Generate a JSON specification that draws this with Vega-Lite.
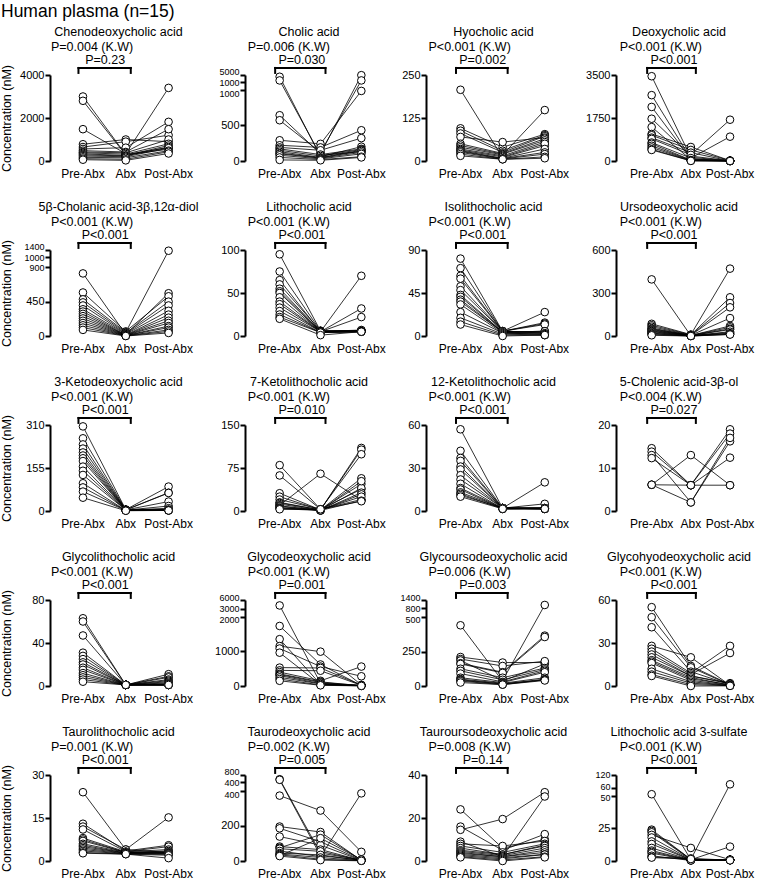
{
"$schema":"https://vega.github.io/schema/vega-lite/v6.json",
"usermeta":{"embedOptions":{"actions":false}},
"padding":{"left":0,"top":2,"right":0,"bottom":4},
"title":{"text":"Human plasma (n=15)","anchor":"start","fontSize":17.5,"offset":6,"frame":"bounds","dx":1},
"columns":4,
"spacing":{"row":89,"column":30},
"bounds":"flush",
"config":{
 "font":"Liberation Sans",
 "view":{"stroke":null,"continuousHeight":86,"discreteWidth":151},
 "scale":{"pointPadding":0.7},
 "numberFormat":"d",
 "axis":{"labelColor":"black","titleColor":"black","labelFont":"Liberation Sans","titleFont":"Liberation Sans","grid":false,"labelOverlap":false},
 "axisX":{"domain":false,"ticks":false,"labelFontSize":12,"labelPadding":7,"labelAngle":0,"labelExpr":"datum.value=='a'?'Pre-Abx':datum.value=='b'?'Abx':'Post-Abx'"},
 "axisY":{"domainColor":"black","domainWidth":2,"tickColor":"black","tickWidth":2,"tickSize":5,"labelFontSize":11,"labelPadding":1,"minExtent":30,"maxExtent":30,"titleFontSize":12.5,"titleFontWeight":"normal","titlePadding":7},
 "title":{"fontSize":12.5,"fontWeight":"normal","anchor":"middle","frame":"group","offset":2,"color":"black","font":"Liberation Sans"},
 "line":{"color":"black","strokeWidth":0.8},
 "point":{"filled":true,"fill":"white","stroke":"black","strokeWidth":1,"size":58,"opacity":1},
 "rule":{"color":"black","strokeWidth":2,"strokeCap":"square"},
 "text":{"fontSize":12.5,"color":"black","font":"Liberation Sans"}
},
"datasets":{
"d1":[{"t":"a","s":1,"v":3000},{"t":"b","s":1,"v":300},{"t":"c","s":1,"v":620},{"t":"a","s":2,"v":2800},{"t":"b","s":2,"v":280},{"t":"c","s":2,"v":550},{"t":"a","s":3,"v":1480},{"t":"b","s":3,"v":340},{"t":"c","s":3,"v":3400},{"t":"a","s":4,"v":780},{"t":"b","s":4,"v":1000},{"t":"c","s":4,"v":900},{"t":"a","s":5,"v":650},{"t":"b","s":5,"v":900},{"t":"c","s":5,"v":1200},{"t":"a","s":6,"v":560},{"t":"b","s":6,"v":620},{"t":"c","s":6,"v":1820},{"t":"a","s":7,"v":480},{"t":"b","s":7,"v":420},{"t":"c","s":7,"v":1480},{"t":"a","s":8,"v":420},{"t":"b","s":8,"v":380},{"t":"c","s":8,"v":1000},{"t":"a","s":9,"v":380},{"t":"b","s":9,"v":320},{"t":"c","s":9,"v":800},{"t":"a","s":10,"v":330},{"t":"b","s":10,"v":260},{"t":"c","s":10,"v":720},{"t":"a","s":11,"v":280},{"t":"b","s":11,"v":240},{"t":"c","s":11,"v":650},{"t":"a","s":12,"v":230},{"t":"b","s":12,"v":200},{"t":"c","s":12,"v":600},{"t":"a","s":13,"v":170},{"t":"b","s":13,"v":150},{"t":"c","s":13,"v":480},{"t":"a","s":14,"v":110},{"t":"b","s":14,"v":80},{"t":"c","s":14,"v":430},{"t":"a","s":15,"v":60},{"t":"b","s":15,"v":30},{"t":"c","s":15,"v":350}],
"d2":[{"t":"a","s":1,"v":4000},{"t":"b","s":1,"v":60},{"t":"c","s":1,"v":200},{"t":"a","s":2,"v":1900},{"t":"b","s":2,"v":80},{"t":"c","s":2,"v":130},{"t":"a","s":3,"v":640},{"t":"b","s":3,"v":100},{"t":"c","s":3,"v":4900},{"t":"a","s":4,"v":570},{"t":"b","s":4,"v":120},{"t":"c","s":4,"v":1900},{"t":"a","s":5,"v":290},{"t":"b","s":5,"v":240},{"t":"c","s":5,"v":980},{"t":"a","s":6,"v":220},{"t":"b","s":6,"v":190},{"t":"c","s":6,"v":430},{"t":"a","s":7,"v":190},{"t":"b","s":7,"v":150},{"t":"c","s":7,"v":320},{"t":"a","s":8,"v":170},{"t":"b","s":8,"v":90},{"t":"c","s":8,"v":170},{"t":"a","s":9,"v":150},{"t":"b","s":9,"v":70},{"t":"c","s":9,"v":160},{"t":"a","s":10,"v":130},{"t":"b","s":10,"v":50},{"t":"c","s":10,"v":150},{"t":"a","s":11,"v":110},{"t":"b","s":11,"v":45},{"t":"c","s":11,"v":140},{"t":"a","s":12,"v":100},{"t":"b","s":12,"v":40},{"t":"c","s":12,"v":120},{"t":"a","s":13,"v":80},{"t":"b","s":13,"v":30},{"t":"c","s":13,"v":100},{"t":"a","s":14,"v":50},{"t":"b","s":14,"v":20},{"t":"c","s":14,"v":60},{"t":"a","s":15,"v":15},{"t":"b","s":15,"v":10},{"t":"c","s":15,"v":50}],
"d3":[{"t":"a","s":1,"v":207},{"t":"b","s":1,"v":10},{"t":"c","s":1,"v":45},{"t":"a","s":2,"v":95},{"t":"b","s":2,"v":40},{"t":"c","s":2,"v":78},{"t":"a","s":3,"v":88},{"t":"b","s":3,"v":30},{"t":"c","s":3,"v":75},{"t":"a","s":4,"v":80},{"t":"b","s":4,"v":25},{"t":"c","s":4,"v":72},{"t":"a","s":5,"v":70},{"t":"b","s":5,"v":55},{"t":"c","s":5,"v":68},{"t":"a","s":6,"v":50},{"t":"b","s":6,"v":22},{"t":"c","s":6,"v":65},{"t":"a","s":7,"v":45},{"t":"b","s":7,"v":20},{"t":"c","s":7,"v":60},{"t":"a","s":8,"v":40},{"t":"b","s":8,"v":18},{"t":"c","s":8,"v":148},{"t":"a","s":9,"v":35},{"t":"b","s":9,"v":15},{"t":"c","s":9,"v":55},{"t":"a","s":10,"v":32},{"t":"b","s":10,"v":12},{"t":"c","s":10,"v":50},{"t":"a","s":11,"v":30},{"t":"b","s":11,"v":8},{"t":"c","s":11,"v":35},{"t":"a","s":12,"v":28},{"t":"b","s":12,"v":7},{"t":"c","s":12,"v":25},{"t":"a","s":13,"v":25},{"t":"b","s":13,"v":6},{"t":"c","s":13,"v":20},{"t":"a","s":14,"v":20},{"t":"b","s":14,"v":5},{"t":"c","s":14,"v":12},{"t":"a","s":15,"v":15},{"t":"b","s":15,"v":5},{"t":"c","s":15,"v":8}],
"d4":[{"t":"a","s":1,"v":3450},{"t":"b","s":1,"v":150},{"t":"c","s":1,"v":5},{"t":"a","s":2,"v":2680},{"t":"b","s":2,"v":100},{"t":"c","s":2,"v":3},{"t":"a","s":3,"v":2200},{"t":"b","s":3,"v":80},{"t":"c","s":3,"v":10},{"t":"a","s":4,"v":1720},{"t":"b","s":4,"v":200},{"t":"c","s":4,"v":8},{"t":"a","s":5,"v":1380},{"t":"b","s":5,"v":60},{"t":"c","s":5,"v":5},{"t":"a","s":6,"v":1100},{"t":"b","s":6,"v":570},{"t":"c","s":6,"v":15},{"t":"a","s":7,"v":1050},{"t":"b","s":7,"v":450},{"t":"c","s":7,"v":20},{"t":"a","s":8,"v":950},{"t":"b","s":8,"v":340},{"t":"c","s":8,"v":2},{"t":"a","s":9,"v":900},{"t":"b","s":9,"v":250},{"t":"c","s":9,"v":1680},{"t":"a","s":10,"v":750},{"t":"b","s":10,"v":120},{"t":"c","s":10,"v":990},{"t":"a","s":11,"v":700},{"t":"b","s":11,"v":40},{"t":"c","s":11,"v":3},{"t":"a","s":12,"v":620},{"t":"b","s":12,"v":30},{"t":"c","s":12,"v":2},{"t":"a","s":13,"v":550},{"t":"b","s":13,"v":20},{"t":"c","s":13,"v":1},{"t":"a","s":14,"v":480},{"t":"b","s":14,"v":10},{"t":"c","s":14,"v":1},{"t":"a","s":15,"v":450},{"t":"b","s":15,"v":5},{"t":"c","s":15,"v":0}],
"d5":[{"t":"a","s":1,"v":820},{"t":"b","s":1,"v":20},{"t":"c","s":1,"v":560},{"t":"a","s":2,"v":570},{"t":"b","s":2,"v":60},{"t":"c","s":2,"v":520},{"t":"a","s":3,"v":480},{"t":"b","s":3,"v":50},{"t":"c","s":3,"v":1360},{"t":"a","s":4,"v":440},{"t":"b","s":4,"v":40},{"t":"c","s":4,"v":450},{"t":"a","s":5,"v":400},{"t":"b","s":5,"v":30},{"t":"c","s":5,"v":400},{"t":"a","s":6,"v":350},{"t":"b","s":6,"v":25},{"t":"c","s":6,"v":330},{"t":"a","s":7,"v":320},{"t":"b","s":7,"v":15},{"t":"c","s":7,"v":280},{"t":"a","s":8,"v":290},{"t":"b","s":8,"v":12},{"t":"c","s":8,"v":240},{"t":"a","s":9,"v":260},{"t":"b","s":9,"v":10},{"t":"c","s":9,"v":200},{"t":"a","s":10,"v":230},{"t":"b","s":10,"v":8},{"t":"c","s":10,"v":170},{"t":"a","s":11,"v":200},{"t":"b","s":11,"v":6},{"t":"c","s":11,"v":130},{"t":"a","s":12,"v":170},{"t":"b","s":12,"v":5},{"t":"c","s":12,"v":110},{"t":"a","s":13,"v":140},{"t":"b","s":13,"v":3},{"t":"c","s":13,"v":80},{"t":"a","s":14,"v":110},{"t":"b","s":14,"v":2},{"t":"c","s":14,"v":60},{"t":"a","s":15,"v":80},{"t":"b","s":15,"v":0},{"t":"c","s":15,"v":40}],
"d6":[{"t":"a","s":1,"v":95},{"t":"b","s":1,"v":6},{"t":"c","s":1,"v":6},{"t":"a","s":2,"v":75},{"t":"b","s":2,"v":6},{"t":"c","s":2,"v":6},{"t":"a","s":3,"v":65},{"t":"b","s":3,"v":5},{"t":"c","s":3,"v":70},{"t":"a","s":4,"v":60},{"t":"b","s":4,"v":6},{"t":"c","s":4,"v":6},{"t":"a","s":5,"v":55},{"t":"b","s":5,"v":5},{"t":"c","s":5,"v":32},{"t":"a","s":6,"v":52},{"t":"b","s":6,"v":5},{"t":"c","s":6,"v":6},{"t":"a","s":7,"v":50},{"t":"b","s":7,"v":5},{"t":"c","s":7,"v":22},{"t":"a","s":8,"v":45},{"t":"b","s":8,"v":5},{"t":"c","s":8,"v":6},{"t":"a","s":9,"v":40},{"t":"b","s":9,"v":5},{"t":"c","s":9,"v":7},{"t":"a","s":10,"v":37},{"t":"b","s":10,"v":5},{"t":"c","s":10,"v":6},{"t":"a","s":11,"v":33},{"t":"b","s":11,"v":5},{"t":"c","s":11,"v":5},{"t":"a","s":12,"v":29},{"t":"b","s":12,"v":4},{"t":"c","s":12,"v":5},{"t":"a","s":13,"v":25},{"t":"b","s":13,"v":4},{"t":"c","s":13,"v":5},{"t":"a","s":14,"v":22},{"t":"b","s":14,"v":4},{"t":"c","s":14,"v":5},{"t":"a","s":15,"v":20},{"t":"b","s":15,"v":1},{"t":"c","s":15,"v":5}],
"d7":[{"t":"a","s":1,"v":81},{"t":"b","s":1,"v":5},{"t":"c","s":1,"v":4},{"t":"a","s":2,"v":71},{"t":"b","s":2,"v":5},{"t":"c","s":2,"v":14},{"t":"a","s":3,"v":63},{"t":"b","s":3,"v":5},{"t":"c","s":3,"v":13},{"t":"a","s":4,"v":60},{"t":"b","s":4,"v":5},{"t":"c","s":4,"v":3},{"t":"a","s":5,"v":52},{"t":"b","s":5,"v":5},{"t":"c","s":5,"v":25},{"t":"a","s":6,"v":48},{"t":"b","s":6,"v":5},{"t":"c","s":6,"v":12},{"t":"a","s":7,"v":43},{"t":"b","s":7,"v":4},{"t":"c","s":7,"v":5},{"t":"a","s":8,"v":41},{"t":"b","s":8,"v":4},{"t":"c","s":8,"v":4},{"t":"a","s":9,"v":38},{"t":"b","s":9,"v":4},{"t":"c","s":9,"v":5},{"t":"a","s":10,"v":36},{"t":"b","s":10,"v":4},{"t":"c","s":10,"v":3},{"t":"a","s":11,"v":33},{"t":"b","s":11,"v":3},{"t":"c","s":11,"v":2},{"t":"a","s":12,"v":25},{"t":"b","s":12,"v":3},{"t":"c","s":12,"v":2},{"t":"a","s":13,"v":19},{"t":"b","s":13,"v":2},{"t":"c","s":13,"v":1},{"t":"a","s":14,"v":15},{"t":"b","s":14,"v":1},{"t":"c","s":14,"v":1},{"t":"a","s":15,"v":12},{"t":"b","s":15,"v":0},{"t":"c","s":15,"v":1}],
"d8":[{"t":"a","s":1,"v":395},{"t":"b","s":1,"v":2},{"t":"c","s":1,"v":25},{"t":"a","s":2,"v":85},{"t":"b","s":2,"v":10},{"t":"c","s":2,"v":470},{"t":"a","s":3,"v":75},{"t":"b","s":3,"v":8},{"t":"c","s":3,"v":270},{"t":"a","s":4,"v":65},{"t":"b","s":4,"v":6},{"t":"c","s":4,"v":230},{"t":"a","s":5,"v":55},{"t":"b","s":5,"v":5},{"t":"c","s":5,"v":200},{"t":"a","s":6,"v":50},{"t":"b","s":6,"v":5},{"t":"c","s":6,"v":125},{"t":"a","s":7,"v":45},{"t":"b","s":7,"v":4},{"t":"c","s":7,"v":70},{"t":"a","s":8,"v":40},{"t":"b","s":8,"v":4},{"t":"c","s":8,"v":60},{"t":"a","s":9,"v":35},{"t":"b","s":9,"v":3},{"t":"c","s":9,"v":50},{"t":"a","s":10,"v":30},{"t":"b","s":10,"v":3},{"t":"c","s":10,"v":45},{"t":"a","s":11,"v":25},{"t":"b","s":11,"v":2},{"t":"c","s":11,"v":30},{"t":"a","s":12,"v":20},{"t":"b","s":12,"v":1},{"t":"c","s":12,"v":20},{"t":"a","s":13,"v":15},{"t":"b","s":13,"v":1},{"t":"c","s":13,"v":15},{"t":"a","s":14,"v":10},{"t":"b","s":14,"v":0},{"t":"c","s":14,"v":12},{"t":"a","s":15,"v":5},{"t":"b","s":15,"v":0},{"t":"c","s":15,"v":10}],
"d9":[{"t":"a","s":1,"v":305},{"t":"b","s":1,"v":5},{"t":"c","s":1,"v":4},{"t":"a","s":2,"v":262},{"t":"b","s":2,"v":5},{"t":"c","s":2,"v":88},{"t":"a","s":3,"v":240},{"t":"b","s":3,"v":4},{"t":"c","s":3,"v":66},{"t":"a","s":4,"v":225},{"t":"b","s":4,"v":4},{"t":"c","s":4,"v":3},{"t":"a","s":5,"v":211},{"t":"b","s":5,"v":4},{"t":"c","s":5,"v":65},{"t":"a","s":6,"v":200},{"t":"b","s":6,"v":4},{"t":"c","s":6,"v":34},{"t":"a","s":7,"v":190},{"t":"b","s":7,"v":3},{"t":"c","s":7,"v":18},{"t":"a","s":8,"v":180},{"t":"b","s":8,"v":3},{"t":"c","s":8,"v":10},{"t":"a","s":9,"v":160},{"t":"b","s":9,"v":3},{"t":"c","s":9,"v":5},{"t":"a","s":10,"v":145},{"t":"b","s":10,"v":3},{"t":"c","s":10,"v":4},{"t":"a","s":11,"v":130},{"t":"b","s":11,"v":3},{"t":"c","s":11,"v":3},{"t":"a","s":12,"v":100},{"t":"b","s":12,"v":2},{"t":"c","s":12,"v":3},{"t":"a","s":13,"v":85},{"t":"b","s":13,"v":2},{"t":"c","s":13,"v":2},{"t":"a","s":14,"v":70},{"t":"b","s":14,"v":2},{"t":"c","s":14,"v":2},{"t":"a","s":15,"v":48},{"t":"b","s":15,"v":1},{"t":"c","s":15,"v":2}],
"d10":[{"t":"a","s":1,"v":80},{"t":"b","s":1,"v":3},{"t":"c","s":1,"v":20},{"t":"a","s":2,"v":62},{"t":"b","s":2,"v":3},{"t":"c","s":2,"v":38},{"t":"a","s":3,"v":31},{"t":"b","s":3,"v":2},{"t":"c","s":3,"v":110},{"t":"a","s":4,"v":25},{"t":"b","s":4,"v":2},{"t":"c","s":4,"v":107},{"t":"a","s":5,"v":20},{"t":"b","s":5,"v":3},{"t":"c","s":5,"v":99},{"t":"a","s":6,"v":15},{"t":"b","s":6,"v":2},{"t":"c","s":6,"v":57},{"t":"a","s":7,"v":14},{"t":"b","s":7,"v":2},{"t":"c","s":7,"v":47},{"t":"a","s":8,"v":12},{"t":"b","s":8,"v":1},{"t":"c","s":8,"v":40},{"t":"a","s":9,"v":10},{"t":"b","s":9,"v":65},{"t":"c","s":9,"v":19},{"t":"a","s":10,"v":9},{"t":"b","s":10,"v":1},{"t":"c","s":10,"v":52},{"t":"a","s":11,"v":8},{"t":"b","s":11,"v":1},{"t":"c","s":11,"v":32},{"t":"a","s":12,"v":6},{"t":"b","s":12,"v":1},{"t":"c","s":12,"v":29},{"t":"a","s":13,"v":5},{"t":"b","s":13,"v":2},{"t":"c","s":13,"v":25},{"t":"a","s":14,"v":4},{"t":"b","s":14,"v":1},{"t":"c","s":14,"v":18},{"t":"a","s":15,"v":3},{"t":"b","s":15,"v":3},{"t":"c","s":15,"v":17}],
"d11":[{"t":"a","s":1,"v":57},{"t":"b","s":1,"v":2},{"t":"c","s":1,"v":2},{"t":"a","s":2,"v":42},{"t":"b","s":2,"v":2},{"t":"c","s":2,"v":20},{"t":"a","s":3,"v":37},{"t":"b","s":3,"v":2},{"t":"c","s":3,"v":2},{"t":"a","s":4,"v":35},{"t":"b","s":4,"v":2},{"t":"c","s":4,"v":5},{"t":"a","s":5,"v":31},{"t":"b","s":5,"v":2},{"t":"c","s":5,"v":2},{"t":"a","s":6,"v":29},{"t":"b","s":6,"v":2},{"t":"c","s":6,"v":1.5},{"t":"a","s":7,"v":25},{"t":"b","s":7,"v":2},{"t":"c","s":7,"v":2},{"t":"a","s":8,"v":22},{"t":"b","s":8,"v":2},{"t":"c","s":8,"v":1.5},{"t":"a","s":9,"v":19},{"t":"b","s":9,"v":1.5},{"t":"c","s":9,"v":2},{"t":"a","s":10,"v":16},{"t":"b","s":10,"v":2},{"t":"c","s":10,"v":1.5},{"t":"a","s":11,"v":15},{"t":"b","s":11,"v":1.5},{"t":"c","s":11,"v":1.5},{"t":"a","s":12,"v":13},{"t":"b","s":12,"v":2},{"t":"c","s":12,"v":2},{"t":"a","s":13,"v":12},{"t":"b","s":13,"v":1.5},{"t":"c","s":13,"v":1.5},{"t":"a","s":14,"v":11},{"t":"b","s":14,"v":2},{"t":"c","s":14,"v":2},{"t":"a","s":15,"v":10},{"t":"b","s":15,"v":1.5},{"t":"c","s":15,"v":1.5}],
"d12":[{"t":"a","s":1,"v":14.6},{"t":"b","s":1,"v":6},{"t":"c","s":1,"v":19},{"t":"a","s":2,"v":13.8},{"t":"b","s":2,"v":6},{"t":"c","s":2,"v":18},{"t":"a","s":3,"v":13},{"t":"b","s":3,"v":2},{"t":"c","s":3,"v":16.2},{"t":"a","s":4,"v":12.3},{"t":"b","s":4,"v":6},{"t":"c","s":4,"v":12.4},{"t":"a","s":5,"v":6.1},{"t":"b","s":5,"v":13},{"t":"c","s":5,"v":6},{"t":"a","s":6,"v":6.1},{"t":"b","s":6,"v":6},{"t":"c","s":6,"v":6},{"t":"a","s":7,"v":6.1},{"t":"b","s":7,"v":2},{"t":"c","s":7,"v":17}],
"d13":[{"t":"a","s":1,"v":63},{"t":"b","s":1,"v":1},{"t":"c","s":1,"v":11},{"t":"a","s":2,"v":60},{"t":"b","s":2,"v":1},{"t":"c","s":2,"v":9},{"t":"a","s":3,"v":47},{"t":"b","s":3,"v":1},{"t":"c","s":3,"v":1},{"t":"a","s":4,"v":31},{"t":"b","s":4,"v":1},{"t":"c","s":4,"v":8},{"t":"a","s":5,"v":28},{"t":"b","s":5,"v":1},{"t":"c","s":5,"v":6},{"t":"a","s":6,"v":25},{"t":"b","s":6,"v":1},{"t":"c","s":6,"v":1},{"t":"a","s":7,"v":22},{"t":"b","s":7,"v":1},{"t":"c","s":7,"v":5},{"t":"a","s":8,"v":20},{"t":"b","s":8,"v":1},{"t":"c","s":8,"v":4},{"t":"a","s":9,"v":17},{"t":"b","s":9,"v":1},{"t":"c","s":9,"v":3},{"t":"a","s":10,"v":15},{"t":"b","s":10,"v":1},{"t":"c","s":10,"v":2},{"t":"a","s":11,"v":12},{"t":"b","s":11,"v":1},{"t":"c","s":11,"v":2},{"t":"a","s":12,"v":10},{"t":"b","s":12,"v":1},{"t":"c","s":12,"v":1},{"t":"a","s":13,"v":8},{"t":"b","s":13,"v":1},{"t":"c","s":13,"v":1},{"t":"a","s":14,"v":6},{"t":"b","s":14,"v":1},{"t":"c","s":14,"v":1},{"t":"a","s":15,"v":4},{"t":"b","s":15,"v":1},{"t":"c","s":15,"v":1}],
"d14":[{"t":"a","s":1,"v":4100},{"t":"b","s":1,"v":80},{"t":"c","s":1,"v":10},{"t":"a","s":2,"v":1730},{"t":"b","s":2,"v":620},{"t":"c","s":2,"v":15},{"t":"a","s":3,"v":1350},{"t":"b","s":3,"v":50},{"t":"c","s":3,"v":20},{"t":"a","s":4,"v":1150},{"t":"b","s":4,"v":990},{"t":"c","s":4,"v":30},{"t":"a","s":5,"v":1080},{"t":"b","s":5,"v":560},{"t":"c","s":5,"v":280},{"t":"a","s":6,"v":960},{"t":"b","s":6,"v":40},{"t":"c","s":6,"v":10},{"t":"a","s":7,"v":530},{"t":"b","s":7,"v":520},{"t":"c","s":7,"v":25},{"t":"a","s":8,"v":450},{"t":"b","s":8,"v":440},{"t":"c","s":8,"v":20},{"t":"a","s":9,"v":400},{"t":"b","s":9,"v":150},{"t":"c","s":9,"v":560},{"t":"a","s":10,"v":350},{"t":"b","s":10,"v":120},{"t":"c","s":10,"v":5},{"t":"a","s":11,"v":330},{"t":"b","s":11,"v":100},{"t":"c","s":11,"v":15},{"t":"a","s":12,"v":300},{"t":"b","s":12,"v":70},{"t":"c","s":12,"v":10},{"t":"a","s":13,"v":250},{"t":"b","s":13,"v":60},{"t":"c","s":13,"v":8},{"t":"a","s":14,"v":200},{"t":"b","s":14,"v":30},{"t":"c","s":14,"v":5},{"t":"a","s":15,"v":150},{"t":"b","s":15,"v":20},{"t":"c","s":15,"v":3}],
"d15":[{"t":"a","s":1,"v":440},{"t":"b","s":1,"v":35},{"t":"c","s":1,"v":160},{"t":"a","s":2,"v":210},{"t":"b","s":2,"v":170},{"t":"c","s":2,"v":170},{"t":"a","s":3,"v":195},{"t":"b","s":3,"v":145},{"t":"c","s":3,"v":180},{"t":"a","s":4,"v":185},{"t":"b","s":4,"v":40},{"t":"c","s":4,"v":1040},{"t":"a","s":5,"v":165},{"t":"b","s":5,"v":100},{"t":"c","s":5,"v":365},{"t":"a","s":6,"v":160},{"t":"b","s":6,"v":95},{"t":"c","s":6,"v":355},{"t":"a","s":7,"v":125},{"t":"b","s":7,"v":60},{"t":"c","s":7,"v":130},{"t":"a","s":8,"v":110},{"t":"b","s":8,"v":45},{"t":"c","s":8,"v":120},{"t":"a","s":9,"v":90},{"t":"b","s":9,"v":30},{"t":"c","s":9,"v":110},{"t":"a","s":10,"v":60},{"t":"b","s":10,"v":25},{"t":"c","s":10,"v":100},{"t":"a","s":11,"v":50},{"t":"b","s":11,"v":20},{"t":"c","s":11,"v":60},{"t":"a","s":12,"v":45},{"t":"b","s":12,"v":15},{"t":"c","s":12,"v":50},{"t":"a","s":13,"v":40},{"t":"b","s":13,"v":15},{"t":"c","s":13,"v":45},{"t":"a","s":14,"v":35},{"t":"b","s":14,"v":10},{"t":"c","s":14,"v":45},{"t":"a","s":15,"v":25},{"t":"b","s":15,"v":10},{"t":"c","s":15,"v":40}],
"d16":[{"t":"a","s":1,"v":55},{"t":"b","s":1,"v":14},{"t":"c","s":1,"v":1},{"t":"a","s":2,"v":48},{"t":"b","s":2,"v":13},{"t":"c","s":2,"v":0.8},{"t":"a","s":3,"v":41},{"t":"b","s":3,"v":10},{"t":"c","s":3,"v":1},{"t":"a","s":4,"v":28},{"t":"b","s":4,"v":20},{"t":"c","s":4,"v":0.5},{"t":"a","s":5,"v":26},{"t":"b","s":5,"v":9},{"t":"c","s":5,"v":28},{"t":"a","s":6,"v":24},{"t":"b","s":6,"v":8},{"t":"c","s":6,"v":23},{"t":"a","s":7,"v":22},{"t":"b","s":7,"v":7},{"t":"c","s":7,"v":2},{"t":"a","s":8,"v":20},{"t":"b","s":8,"v":7},{"t":"c","s":8,"v":1.5},{"t":"a","s":9,"v":18},{"t":"b","s":9,"v":6},{"t":"c","s":9,"v":0.5},{"t":"a","s":10,"v":17},{"t":"b","s":10,"v":5},{"t":"c","s":10,"v":1},{"t":"a","s":11,"v":16},{"t":"b","s":11,"v":4},{"t":"c","s":11,"v":0.5},{"t":"a","s":12,"v":12},{"t":"b","s":12,"v":3},{"t":"c","s":12,"v":0.3},{"t":"a","s":13,"v":10},{"t":"b","s":13,"v":2},{"t":"c","s":13,"v":0.3},{"t":"a","s":14,"v":8},{"t":"b","s":14,"v":1},{"t":"c","s":14,"v":0.2},{"t":"a","s":15,"v":7},{"t":"b","s":15,"v":0},{"t":"c","s":15,"v":0.1}],
"d17":[{"t":"a","s":1,"v":24},{"t":"b","s":1,"v":4},{"t":"c","s":1,"v":3},{"t":"a","s":2,"v":13},{"t":"b","s":2,"v":3.5},{"t":"c","s":2,"v":5.5},{"t":"a","s":3,"v":12},{"t":"b","s":3,"v":4},{"t":"c","s":3,"v":15.2},{"t":"a","s":4,"v":11},{"t":"b","s":4,"v":3.3},{"t":"c","s":4,"v":5},{"t":"a","s":5,"v":8},{"t":"b","s":5,"v":3.2},{"t":"c","s":5,"v":4},{"t":"a","s":6,"v":7.5},{"t":"b","s":6,"v":3},{"t":"c","s":6,"v":3.5},{"t":"a","s":7,"v":7},{"t":"b","s":7,"v":3},{"t":"c","s":7,"v":3.2},{"t":"a","s":8,"v":6},{"t":"b","s":8,"v":3},{"t":"c","s":8,"v":3},{"t":"a","s":9,"v":5.5},{"t":"b","s":9,"v":2.8},{"t":"c","s":9,"v":3},{"t":"a","s":10,"v":5},{"t":"b","s":10,"v":2.8},{"t":"c","s":10,"v":2.8},{"t":"a","s":11,"v":4.5},{"t":"b","s":11,"v":2.7},{"t":"c","s":11,"v":2.6},{"t":"a","s":12,"v":4},{"t":"b","s":12,"v":2.6},{"t":"c","s":12,"v":2.5},{"t":"a","s":13,"v":3.5},{"t":"b","s":13,"v":2.5},{"t":"c","s":13,"v":2.3},{"t":"a","s":14,"v":3},{"t":"b","s":14,"v":2.4},{"t":"c","s":14,"v":2},{"t":"a","s":15,"v":2.7},{"t":"b","s":15,"v":2.4},{"t":"c","s":15,"v":1}],
"d18":[{"t":"a","s":1,"v":570},{"t":"b","s":1,"v":45},{"t":"c","s":1,"v":6},{"t":"a","s":2,"v":540},{"t":"b","s":2,"v":30},{"t":"c","s":2,"v":5},{"t":"a","s":3,"v":372},{"t":"b","s":3,"v":287},{"t":"c","s":3,"v":52},{"t":"a","s":4,"v":196},{"t":"b","s":4,"v":165},{"t":"c","s":4,"v":4},{"t":"a","s":5,"v":186},{"t":"b","s":5,"v":110},{"t":"c","s":5,"v":5},{"t":"a","s":6,"v":139},{"t":"b","s":6,"v":90},{"t":"c","s":6,"v":4},{"t":"a","s":7,"v":82},{"t":"b","s":7,"v":65},{"t":"c","s":7,"v":3},{"t":"a","s":8,"v":75},{"t":"b","s":8,"v":150},{"t":"c","s":8,"v":6},{"t":"a","s":9,"v":70},{"t":"b","s":9,"v":55},{"t":"c","s":9,"v":3},{"t":"a","s":10,"v":57},{"t":"b","s":10,"v":25},{"t":"c","s":10,"v":385},{"t":"a","s":11,"v":45},{"t":"b","s":11,"v":35},{"t":"c","s":11,"v":3},{"t":"a","s":12,"v":40},{"t":"b","s":12,"v":20},{"t":"c","s":12,"v":2},{"t":"a","s":13,"v":35},{"t":"b","s":13,"v":10},{"t":"c","s":13,"v":2},{"t":"a","s":14,"v":30},{"t":"b","s":14,"v":130},{"t":"c","s":14,"v":8},{"t":"a","s":15,"v":28},{"t":"b","s":15,"v":5},{"t":"c","s":15,"v":1}],
"d19":[{"t":"a","s":1,"v":24},{"t":"b","s":1,"v":6},{"t":"c","s":1,"v":10},{"t":"a","s":2,"v":16},{"t":"b","s":2,"v":5},{"t":"c","s":2,"v":12.5},{"t":"a","s":3,"v":14.5},{"t":"b","s":3,"v":19.5},{"t":"c","s":3,"v":32},{"t":"a","s":4,"v":9},{"t":"b","s":4,"v":2},{"t":"c","s":4,"v":30},{"t":"a","s":5,"v":8},{"t":"b","s":5,"v":7},{"t":"c","s":5,"v":9.3},{"t":"a","s":6,"v":7},{"t":"b","s":6,"v":4},{"t":"c","s":6,"v":8},{"t":"a","s":7,"v":6},{"t":"b","s":7,"v":3},{"t":"c","s":7,"v":7.4},{"t":"a","s":8,"v":5},{"t":"b","s":8,"v":3},{"t":"c","s":8,"v":7},{"t":"a","s":9,"v":4.5},{"t":"b","s":9,"v":2.5},{"t":"c","s":9,"v":6},{"t":"a","s":10,"v":4},{"t":"b","s":10,"v":2},{"t":"c","s":10,"v":5},{"t":"a","s":11,"v":3.5},{"t":"b","s":11,"v":2},{"t":"c","s":11,"v":4},{"t":"a","s":12,"v":3},{"t":"b","s":12,"v":1.5},{"t":"c","s":12,"v":3.1},{"t":"a","s":13,"v":2.5},{"t":"b","s":13,"v":1},{"t":"c","s":13,"v":3},{"t":"a","s":14,"v":2},{"t":"b","s":14,"v":0.5},{"t":"c","s":14,"v":2},{"t":"a","s":15,"v":1.7},{"t":"b","s":15,"v":0},{"t":"c","s":15,"v":1.7}],
"d20":[{"t":"a","s":1,"v":52},{"t":"b","s":1,"v":1},{"t":"c","s":1,"v":1},{"t":"a","s":2,"v":24},{"t":"b","s":2,"v":1.3},{"t":"c","s":2,"v":78},{"t":"a","s":3,"v":23},{"t":"b","s":3,"v":1.2},{"t":"c","s":3,"v":0.8},{"t":"a","s":4,"v":22},{"t":"b","s":4,"v":1},{"t":"c","s":4,"v":1},{"t":"a","s":5,"v":20},{"t":"b","s":5,"v":10},{"t":"c","s":5,"v":1},{"t":"a","s":6,"v":18},{"t":"b","s":6,"v":1},{"t":"c","s":6,"v":11},{"t":"a","s":7,"v":15},{"t":"b","s":7,"v":0.8},{"t":"c","s":7,"v":1},{"t":"a","s":8,"v":13},{"t":"b","s":8,"v":0.8},{"t":"c","s":8,"v":0.9},{"t":"a","s":9,"v":10},{"t":"b","s":9,"v":0.7},{"t":"c","s":9,"v":0.8},{"t":"a","s":10,"v":8},{"t":"b","s":10,"v":0.6},{"t":"c","s":10,"v":0.8},{"t":"a","s":11,"v":7},{"t":"b","s":11,"v":0.5},{"t":"c","s":11,"v":0.7},{"t":"a","s":12,"v":6},{"t":"b","s":12,"v":0.5},{"t":"c","s":12,"v":0.7},{"t":"a","s":13,"v":4},{"t":"b","s":13,"v":0.4},{"t":"c","s":13,"v":0.6},{"t":"a","s":14,"v":3},{"t":"b","s":14,"v":2},{"t":"c","s":14,"v":0.6},{"t":"a","s":15,"v":2.6},{"t":"b","s":15,"v":1.5},{"t":"c","s":15,"v":0.5}]
},
"concat":[
{"title":{"text":"Chenodeoxycholic acid","dx":-14},"width":165,"resolve":{"scale":{"y":"independent"}},"layer":[
 {"data":{"name":"d1"},"encoding":{"x":{"field":"t","type":"ordinal","title":null,"scale":{"padding":0.854,"align":0.408}},"y":{"field":"v","type":"quantitative","scale":{"domain":[0,4000]},"axis":{"values":[0,2000,4000],"title":"Concentration (nM)"}}},"layer":[{"mark":"line","encoding":{"detail":{"field":"s","type":"nominal"}}},{"mark":"point"}]},
 {"data":{"values":[{"k":"P=0.004 (K.W)","q":"P=0.23"}]},"encoding":{"x":{"datum":"a","type":"ordinal"}},"layer":[
  {"mark":{"type":"text","align":"left","dx":-32},"encoding":{"y":{"datum":1.33,"type":"quantitative","scale":{"domain":[0,1]},"axis":null},"text":{"field":"k"}}},
  {"mark":{"type":"text","dx":22.2},"encoding":{"y":{"datum":1.176,"type":"quantitative","axis":null},"text":{"field":"q"}}},
  {"mark":{"type":"rule","xOffset":-4.5,"x2Offset":5},"encoding":{"x2":{"datum":"b"},"y":{"datum":1.082,"type":"quantitative","axis":null}}},
  {"mark":{"type":"rule","xOffset":-4.5},"encoding":{"y":{"datum":1.024,"type":"quantitative","axis":null},"y2":{"datum":1.082}}},
  {"mark":{"type":"rule","xOffset":5},"encoding":{"x":{"datum":"b","type":"ordinal"},"y":{"datum":1.024,"type":"quantitative","axis":null},"y2":{"datum":1.082}}}]}]},
{"title":{"text":"Cholic acid","dx":-11.5},"width":151,"resolve":{"scale":{"y":"independent"}},"layer":[
 {"data":{"name":"d2"},"encoding":{"x":{"field":"t","type":"ordinal","title":null,"scale":{"padding":0.697,"align":0.5}},"y":{"field":"v","type":"quantitative","scale":{"domain":[0,1000,1000.001,5000],"range":[86,14.5,7,0]},"axis":{"values":[0,500,1000,1000.001,5000],"title":null,"labelFontSize":{"condition":{"test":"datum.value>=1000","value":9},"value":11},"labelOffset":{"condition":[{"test":"datum.value==5000","value":-3.5},{"test":"datum.value==1000","value":3.5}],"value":0}}}},"layer":[{"mark":"line","encoding":{"detail":{"field":"s","type":"nominal"}}},{"mark":"point"}]},
 {"data":{"values":[{"k":"P=0.006 (K.W)","q":"P=0.030"}]},"encoding":{"x":{"datum":"a","type":"ordinal"}},"layer":[
  {"mark":{"type":"text","align":"left","dx":-32},"encoding":{"y":{"datum":1.33,"type":"quantitative","scale":{"domain":[0,1]},"axis":null},"text":{"field":"k"}}},
  {"mark":{"type":"text","dx":22.2},"encoding":{"y":{"datum":1.176,"type":"quantitative","axis":null},"text":{"field":"q"}}},
  {"mark":{"type":"rule","xOffset":-4.5,"x2Offset":5},"encoding":{"x2":{"datum":"b"},"y":{"datum":1.082,"type":"quantitative","axis":null}}},
  {"mark":{"type":"rule","xOffset":-4.5},"encoding":{"y":{"datum":1.024,"type":"quantitative","axis":null},"y2":{"datum":1.082}}},
  {"mark":{"type":"rule","xOffset":5},"encoding":{"x":{"datum":"b","type":"ordinal"},"y":{"datum":1.024,"type":"quantitative","axis":null},"y2":{"datum":1.082}}}]}]},
{"title":{"text":"Hyocholic acid","dx":-12.5},"width":160,"resolve":{"scale":{"y":"independent"}},"layer":[
 {"data":{"name":"d3"},"encoding":{"x":{"field":"t","type":"ordinal","title":null,"scale":{"padding":0.798,"align":0.45}},"y":{"field":"v","type":"quantitative","scale":{"domain":[0,250]},"axis":{"values":[0,125,250],"title":null}}},"layer":[{"mark":"line","encoding":{"detail":{"field":"s","type":"nominal"}}},{"mark":"point"}]},
 {"data":{"values":[{"k":"P<0.001 (K.W)","q":"P=0.002"}]},"encoding":{"x":{"datum":"a","type":"ordinal"}},"layer":[
  {"mark":{"type":"text","align":"left","dx":-32},"encoding":{"y":{"datum":1.33,"type":"quantitative","scale":{"domain":[0,1]},"axis":null},"text":{"field":"k"}}},
  {"mark":{"type":"text","dx":22.2},"encoding":{"y":{"datum":1.176,"type":"quantitative","axis":null},"text":{"field":"q"}}},
  {"mark":{"type":"rule","xOffset":-4.5,"x2Offset":5},"encoding":{"x2":{"datum":"b"},"y":{"datum":1.082,"type":"quantitative","axis":null}}},
  {"mark":{"type":"rule","xOffset":-4.5},"encoding":{"y":{"datum":1.024,"type":"quantitative","axis":null},"y2":{"datum":1.082}}},
  {"mark":{"type":"rule","xOffset":5},"encoding":{"x":{"datum":"b","type":"ordinal"},"y":{"datum":1.024,"type":"quantitative","axis":null},"y2":{"datum":1.082}}}]}]},
{"title":{"text":"Deoxycholic acid","dx":-7},"width":140,"resolve":{"scale":{"y":"independent"}},"layer":[
 {"data":{"name":"d4"},"encoding":{"x":{"field":"t","type":"ordinal","title":null,"scale":{"padding":0.573,"align":0.608}},"y":{"field":"v","type":"quantitative","scale":{"domain":[0,3500]},"axis":{"values":[0,1750,3500],"title":null}}},"layer":[{"mark":"line","encoding":{"detail":{"field":"s","type":"nominal"}}},{"mark":"point"}]},
 {"data":{"values":[{"k":"P<0.001 (K.W)","q":"P<0.001"}]},"encoding":{"x":{"datum":"a","type":"ordinal"}},"layer":[
  {"mark":{"type":"text","align":"left","dx":-32},"encoding":{"y":{"datum":1.33,"type":"quantitative","scale":{"domain":[0,1]},"axis":null},"text":{"field":"k"}}},
  {"mark":{"type":"text","dx":22.2},"encoding":{"y":{"datum":1.176,"type":"quantitative","axis":null},"text":{"field":"q"}}},
  {"mark":{"type":"rule","xOffset":-4.5,"x2Offset":5},"encoding":{"x2":{"datum":"b"},"y":{"datum":1.082,"type":"quantitative","axis":null}}},
  {"mark":{"type":"rule","xOffset":-4.5},"encoding":{"y":{"datum":1.024,"type":"quantitative","axis":null},"y2":{"datum":1.082}}},
  {"mark":{"type":"rule","xOffset":5},"encoding":{"x":{"datum":"b","type":"ordinal"},"y":{"datum":1.024,"type":"quantitative","axis":null},"y2":{"datum":1.082}}}]}]},
{"title":{"text":"5β-Cholanic acid-3β,12α-diol","dx":-14},"width":165,"resolve":{"scale":{"y":"independent"}},"layer":[
 {"data":{"name":"d5"},"encoding":{"x":{"field":"t","type":"ordinal","title":null,"scale":{"padding":0.854,"align":0.408}},"y":{"field":"v","type":"quantitative","scale":{"domain":[0,900,1000,1400],"range":[86,17.3,7.3,0]},"axis":{"values":[0,450,900,1000,1400],"title":"Concentration (nM)","labelFontSize":{"condition":{"test":"datum.value>=900","value":9},"value":11},"labelOffset":{"condition":[{"test":"datum.value==1400","value":-3.5},{"test":"datum.value==900","value":0.5}],"value":0}}}},"layer":[{"mark":"line","encoding":{"detail":{"field":"s","type":"nominal"}}},{"mark":"point"}]},
 {"data":{"values":[{"k":"P<0.001 (K.W)","q":"P<0.001"}]},"encoding":{"x":{"datum":"a","type":"ordinal"}},"layer":[
  {"mark":{"type":"text","align":"left","dx":-32},"encoding":{"y":{"datum":1.33,"type":"quantitative","scale":{"domain":[0,1]},"axis":null},"text":{"field":"k"}}},
  {"mark":{"type":"text","dx":22.2},"encoding":{"y":{"datum":1.176,"type":"quantitative","axis":null},"text":{"field":"q"}}},
  {"mark":{"type":"rule","xOffset":-4.5,"x2Offset":5},"encoding":{"x2":{"datum":"b"},"y":{"datum":1.082,"type":"quantitative","axis":null}}},
  {"mark":{"type":"rule","xOffset":-4.5},"encoding":{"y":{"datum":1.024,"type":"quantitative","axis":null},"y2":{"datum":1.082}}},
  {"mark":{"type":"rule","xOffset":5},"encoding":{"x":{"datum":"b","type":"ordinal"},"y":{"datum":1.024,"type":"quantitative","axis":null},"y2":{"datum":1.082}}}]}]},
{"title":{"text":"Lithocholic acid","dx":-11.5},"width":151,"resolve":{"scale":{"y":"independent"}},"layer":[
 {"data":{"name":"d6"},"encoding":{"x":{"field":"t","type":"ordinal","title":null,"scale":{"padding":0.697,"align":0.5}},"y":{"field":"v","type":"quantitative","scale":{"domain":[0,100]},"axis":{"values":[0,50,100],"title":null}}},"layer":[{"mark":"line","encoding":{"detail":{"field":"s","type":"nominal"}}},{"mark":"point"}]},
 {"data":{"values":[{"k":"P<0.001 (K.W)","q":"P<0.001"}]},"encoding":{"x":{"datum":"a","type":"ordinal"}},"layer":[
  {"mark":{"type":"text","align":"left","dx":-32},"encoding":{"y":{"datum":1.33,"type":"quantitative","scale":{"domain":[0,1]},"axis":null},"text":{"field":"k"}}},
  {"mark":{"type":"text","dx":22.2},"encoding":{"y":{"datum":1.176,"type":"quantitative","axis":null},"text":{"field":"q"}}},
  {"mark":{"type":"rule","xOffset":-4.5,"x2Offset":5},"encoding":{"x2":{"datum":"b"},"y":{"datum":1.082,"type":"quantitative","axis":null}}},
  {"mark":{"type":"rule","xOffset":-4.5},"encoding":{"y":{"datum":1.024,"type":"quantitative","axis":null},"y2":{"datum":1.082}}},
  {"mark":{"type":"rule","xOffset":5},"encoding":{"x":{"datum":"b","type":"ordinal"},"y":{"datum":1.024,"type":"quantitative","axis":null},"y2":{"datum":1.082}}}]}]},
{"title":{"text":"Isolithocholic acid","dx":-12.5},"width":160,"resolve":{"scale":{"y":"independent"}},"layer":[
 {"data":{"name":"d7"},"encoding":{"x":{"field":"t","type":"ordinal","title":null,"scale":{"padding":0.798,"align":0.45}},"y":{"field":"v","type":"quantitative","scale":{"domain":[0,90]},"axis":{"values":[0,45,90],"title":null}}},"layer":[{"mark":"line","encoding":{"detail":{"field":"s","type":"nominal"}}},{"mark":"point"}]},
 {"data":{"values":[{"k":"P<0.001 (K.W)","q":"P<0.001"}]},"encoding":{"x":{"datum":"a","type":"ordinal"}},"layer":[
  {"mark":{"type":"text","align":"left","dx":-32},"encoding":{"y":{"datum":1.33,"type":"quantitative","scale":{"domain":[0,1]},"axis":null},"text":{"field":"k"}}},
  {"mark":{"type":"text","dx":22.2},"encoding":{"y":{"datum":1.176,"type":"quantitative","axis":null},"text":{"field":"q"}}},
  {"mark":{"type":"rule","xOffset":-4.5,"x2Offset":5},"encoding":{"x2":{"datum":"b"},"y":{"datum":1.082,"type":"quantitative","axis":null}}},
  {"mark":{"type":"rule","xOffset":-4.5},"encoding":{"y":{"datum":1.024,"type":"quantitative","axis":null},"y2":{"datum":1.082}}},
  {"mark":{"type":"rule","xOffset":5},"encoding":{"x":{"datum":"b","type":"ordinal"},"y":{"datum":1.024,"type":"quantitative","axis":null},"y2":{"datum":1.082}}}]}]},
{"title":{"text":"Ursodeoxycholic acid","dx":-7},"width":140,"resolve":{"scale":{"y":"independent"}},"layer":[
 {"data":{"name":"d8"},"encoding":{"x":{"field":"t","type":"ordinal","title":null,"scale":{"padding":0.573,"align":0.608}},"y":{"field":"v","type":"quantitative","scale":{"domain":[0,600]},"axis":{"values":[0,300,600],"title":null}}},"layer":[{"mark":"line","encoding":{"detail":{"field":"s","type":"nominal"}}},{"mark":"point"}]},
 {"data":{"values":[{"k":"P<0.001 (K.W)","q":"P<0.001"}]},"encoding":{"x":{"datum":"a","type":"ordinal"}},"layer":[
  {"mark":{"type":"text","align":"left","dx":-32},"encoding":{"y":{"datum":1.33,"type":"quantitative","scale":{"domain":[0,1]},"axis":null},"text":{"field":"k"}}},
  {"mark":{"type":"text","dx":22.2},"encoding":{"y":{"datum":1.176,"type":"quantitative","axis":null},"text":{"field":"q"}}},
  {"mark":{"type":"rule","xOffset":-4.5,"x2Offset":5},"encoding":{"x2":{"datum":"b"},"y":{"datum":1.082,"type":"quantitative","axis":null}}},
  {"mark":{"type":"rule","xOffset":-4.5},"encoding":{"y":{"datum":1.024,"type":"quantitative","axis":null},"y2":{"datum":1.082}}},
  {"mark":{"type":"rule","xOffset":5},"encoding":{"x":{"datum":"b","type":"ordinal"},"y":{"datum":1.024,"type":"quantitative","axis":null},"y2":{"datum":1.082}}}]}]},
{"title":{"text":"3-Ketodeoxycholic acid","dx":-14},"width":165,"resolve":{"scale":{"y":"independent"}},"layer":[
 {"data":{"name":"d9"},"encoding":{"x":{"field":"t","type":"ordinal","title":null,"scale":{"padding":0.854,"align":0.408}},"y":{"field":"v","type":"quantitative","scale":{"domain":[0,310]},"axis":{"values":[0,155,310],"title":"Concentration (nM)"}}},"layer":[{"mark":"line","encoding":{"detail":{"field":"s","type":"nominal"}}},{"mark":"point"}]},
 {"data":{"values":[{"k":"P<0.001 (K.W)","q":"P<0.001"}]},"encoding":{"x":{"datum":"a","type":"ordinal"}},"layer":[
  {"mark":{"type":"text","align":"left","dx":-32},"encoding":{"y":{"datum":1.33,"type":"quantitative","scale":{"domain":[0,1]},"axis":null},"text":{"field":"k"}}},
  {"mark":{"type":"text","dx":22.2},"encoding":{"y":{"datum":1.176,"type":"quantitative","axis":null},"text":{"field":"q"}}},
  {"mark":{"type":"rule","xOffset":-4.5,"x2Offset":5},"encoding":{"x2":{"datum":"b"},"y":{"datum":1.082,"type":"quantitative","axis":null}}},
  {"mark":{"type":"rule","xOffset":-4.5},"encoding":{"y":{"datum":1.024,"type":"quantitative","axis":null},"y2":{"datum":1.082}}},
  {"mark":{"type":"rule","xOffset":5},"encoding":{"x":{"datum":"b","type":"ordinal"},"y":{"datum":1.024,"type":"quantitative","axis":null},"y2":{"datum":1.082}}}]}]},
{"title":{"text":"7-Ketolithocholic acid","dx":-11.5},"width":151,"resolve":{"scale":{"y":"independent"}},"layer":[
 {"data":{"name":"d10"},"encoding":{"x":{"field":"t","type":"ordinal","title":null,"scale":{"padding":0.697,"align":0.5}},"y":{"field":"v","type":"quantitative","scale":{"domain":[0,150]},"axis":{"values":[0,75,150],"title":null}}},"layer":[{"mark":"line","encoding":{"detail":{"field":"s","type":"nominal"}}},{"mark":"point"}]},
 {"data":{"values":[{"k":"P<0.001 (K.W)","q":"P=0.010"}]},"encoding":{"x":{"datum":"a","type":"ordinal"}},"layer":[
  {"mark":{"type":"text","align":"left","dx":-32},"encoding":{"y":{"datum":1.33,"type":"quantitative","scale":{"domain":[0,1]},"axis":null},"text":{"field":"k"}}},
  {"mark":{"type":"text","dx":22.2},"encoding":{"y":{"datum":1.176,"type":"quantitative","axis":null},"text":{"field":"q"}}},
  {"mark":{"type":"rule","xOffset":-4.5,"x2Offset":5},"encoding":{"x2":{"datum":"b"},"y":{"datum":1.082,"type":"quantitative","axis":null}}},
  {"mark":{"type":"rule","xOffset":-4.5},"encoding":{"y":{"datum":1.024,"type":"quantitative","axis":null},"y2":{"datum":1.082}}},
  {"mark":{"type":"rule","xOffset":5},"encoding":{"x":{"datum":"b","type":"ordinal"},"y":{"datum":1.024,"type":"quantitative","axis":null},"y2":{"datum":1.082}}}]}]},
{"title":{"text":"12-Ketolithocholic acid","dx":-12.5},"width":160,"resolve":{"scale":{"y":"independent"}},"layer":[
 {"data":{"name":"d11"},"encoding":{"x":{"field":"t","type":"ordinal","title":null,"scale":{"padding":0.798,"align":0.45}},"y":{"field":"v","type":"quantitative","scale":{"domain":[0,60]},"axis":{"values":[0,30,60],"title":null}}},"layer":[{"mark":"line","encoding":{"detail":{"field":"s","type":"nominal"}}},{"mark":"point"}]},
 {"data":{"values":[{"k":"P<0.001 (K.W)","q":"P<0.001"}]},"encoding":{"x":{"datum":"a","type":"ordinal"}},"layer":[
  {"mark":{"type":"text","align":"left","dx":-32},"encoding":{"y":{"datum":1.33,"type":"quantitative","scale":{"domain":[0,1]},"axis":null},"text":{"field":"k"}}},
  {"mark":{"type":"text","dx":22.2},"encoding":{"y":{"datum":1.176,"type":"quantitative","axis":null},"text":{"field":"q"}}},
  {"mark":{"type":"rule","xOffset":-4.5,"x2Offset":5},"encoding":{"x2":{"datum":"b"},"y":{"datum":1.082,"type":"quantitative","axis":null}}},
  {"mark":{"type":"rule","xOffset":-4.5},"encoding":{"y":{"datum":1.024,"type":"quantitative","axis":null},"y2":{"datum":1.082}}},
  {"mark":{"type":"rule","xOffset":5},"encoding":{"x":{"datum":"b","type":"ordinal"},"y":{"datum":1.024,"type":"quantitative","axis":null},"y2":{"datum":1.082}}}]}]},
{"title":{"text":"5-Cholenic acid-3β-ol","dx":-7},"width":140,"resolve":{"scale":{"y":"independent"}},"layer":[
 {"data":{"name":"d12"},"encoding":{"x":{"field":"t","type":"ordinal","title":null,"scale":{"padding":0.573,"align":0.608}},"y":{"field":"v","type":"quantitative","scale":{"domain":[0,20]},"axis":{"values":[0,10,20],"title":null}}},"layer":[{"mark":"line","encoding":{"detail":{"field":"s","type":"nominal"}}},{"mark":"point"}]},
 {"data":{"values":[{"k":"P<0.004 (K.W)","q":"P=0.027"}]},"encoding":{"x":{"datum":"a","type":"ordinal"}},"layer":[
  {"mark":{"type":"text","align":"left","dx":-32},"encoding":{"y":{"datum":1.33,"type":"quantitative","scale":{"domain":[0,1]},"axis":null},"text":{"field":"k"}}},
  {"mark":{"type":"text","dx":22.2},"encoding":{"y":{"datum":1.176,"type":"quantitative","axis":null},"text":{"field":"q"}}},
  {"mark":{"type":"rule","xOffset":-4.5,"x2Offset":5},"encoding":{"x2":{"datum":"b"},"y":{"datum":1.082,"type":"quantitative","axis":null}}},
  {"mark":{"type":"rule","xOffset":-4.5},"encoding":{"y":{"datum":1.024,"type":"quantitative","axis":null},"y2":{"datum":1.082}}},
  {"mark":{"type":"rule","xOffset":5},"encoding":{"x":{"datum":"b","type":"ordinal"},"y":{"datum":1.024,"type":"quantitative","axis":null},"y2":{"datum":1.082}}}]}]},
{"title":{"text":"Glycolithocholic acid","dx":-14},"width":165,"resolve":{"scale":{"y":"independent"}},"layer":[
 {"data":{"name":"d13"},"encoding":{"x":{"field":"t","type":"ordinal","title":null,"scale":{"padding":0.854,"align":0.408}},"y":{"field":"v","type":"quantitative","scale":{"domain":[0,80]},"axis":{"values":[0,40,80],"title":"Concentration (nM)"}}},"layer":[{"mark":"line","encoding":{"detail":{"field":"s","type":"nominal"}}},{"mark":"point"}]},
 {"data":{"values":[{"k":"P<0.001 (K.W)","q":"P<0.001"}]},"encoding":{"x":{"datum":"a","type":"ordinal"}},"layer":[
  {"mark":{"type":"text","align":"left","dx":-32},"encoding":{"y":{"datum":1.33,"type":"quantitative","scale":{"domain":[0,1]},"axis":null},"text":{"field":"k"}}},
  {"mark":{"type":"text","dx":22.2},"encoding":{"y":{"datum":1.176,"type":"quantitative","axis":null},"text":{"field":"q"}}},
  {"mark":{"type":"rule","xOffset":-4.5,"x2Offset":5},"encoding":{"x2":{"datum":"b"},"y":{"datum":1.082,"type":"quantitative","axis":null}}},
  {"mark":{"type":"rule","xOffset":-4.5},"encoding":{"y":{"datum":1.024,"type":"quantitative","axis":null},"y2":{"datum":1.082}}},
  {"mark":{"type":"rule","xOffset":5},"encoding":{"x":{"datum":"b","type":"ordinal"},"y":{"datum":1.024,"type":"quantitative","axis":null},"y2":{"datum":1.082}}}]}]},
{"title":{"text":"Glycodeoxycholic acid","dx":-11.5},"width":151,"resolve":{"scale":{"y":"independent"}},"layer":[
 {"data":{"name":"d14"},"encoding":{"x":{"field":"t","type":"ordinal","title":null,"scale":{"padding":0.697,"align":0.5}},"y":{"field":"v","type":"quantitative","scale":{"domain":[0,2000,3000,6000],"range":[86,16.6,8.6,0]},"axis":{"values":[0,1000,2000,3000,6000],"title":null,"labelFontSize":{"condition":{"test":"datum.value>=2000","value":9},"value":11},"labelOffset":{"condition":[{"test":"datum.value==6000","value":-2.5},{"test":"datum.value==2000","value":2.5}],"value":0}}}},"layer":[{"mark":"line","encoding":{"detail":{"field":"s","type":"nominal"}}},{"mark":"point"}]},
 {"data":{"values":[{"k":"P<0.001 (K.W)","q":"P=0.001"}]},"encoding":{"x":{"datum":"a","type":"ordinal"}},"layer":[
  {"mark":{"type":"text","align":"left","dx":-32},"encoding":{"y":{"datum":1.33,"type":"quantitative","scale":{"domain":[0,1]},"axis":null},"text":{"field":"k"}}},
  {"mark":{"type":"text","dx":22.2},"encoding":{"y":{"datum":1.176,"type":"quantitative","axis":null},"text":{"field":"q"}}},
  {"mark":{"type":"rule","xOffset":-4.5,"x2Offset":5},"encoding":{"x2":{"datum":"b"},"y":{"datum":1.082,"type":"quantitative","axis":null}}},
  {"mark":{"type":"rule","xOffset":-4.5},"encoding":{"y":{"datum":1.024,"type":"quantitative","axis":null},"y2":{"datum":1.082}}},
  {"mark":{"type":"rule","xOffset":5},"encoding":{"x":{"datum":"b","type":"ordinal"},"y":{"datum":1.024,"type":"quantitative","axis":null},"y2":{"datum":1.082}}}]}]},
{"title":{"text":"Glycoursodeoxycholic acid","dx":-12.5},"width":160,"resolve":{"scale":{"y":"independent"}},"layer":[
 {"data":{"name":"d15"},"encoding":{"x":{"field":"t","type":"ordinal","title":null,"scale":{"padding":0.798,"align":0.45}},"y":{"field":"v","type":"quantitative","scale":{"domain":[0,500,800,1400],"range":[86,17,8.3,0]},"axis":{"values":[0,250,500,800,1400],"title":null,"labelFontSize":{"condition":{"test":"datum.value>=500","value":9},"value":11},"labelOffset":{"condition":[{"test":"datum.value==1400","value":-2.5},{"test":"datum.value==500","value":2}],"value":0}}}},"layer":[{"mark":"line","encoding":{"detail":{"field":"s","type":"nominal"}}},{"mark":"point"}]},
 {"data":{"values":[{"k":"P=0.006 (K.W)","q":"P=0.003"}]},"encoding":{"x":{"datum":"a","type":"ordinal"}},"layer":[
  {"mark":{"type":"text","align":"left","dx":-32},"encoding":{"y":{"datum":1.33,"type":"quantitative","scale":{"domain":[0,1]},"axis":null},"text":{"field":"k"}}},
  {"mark":{"type":"text","dx":22.2},"encoding":{"y":{"datum":1.176,"type":"quantitative","axis":null},"text":{"field":"q"}}},
  {"mark":{"type":"rule","xOffset":-4.5,"x2Offset":5},"encoding":{"x2":{"datum":"b"},"y":{"datum":1.082,"type":"quantitative","axis":null}}},
  {"mark":{"type":"rule","xOffset":-4.5},"encoding":{"y":{"datum":1.024,"type":"quantitative","axis":null},"y2":{"datum":1.082}}},
  {"mark":{"type":"rule","xOffset":5},"encoding":{"x":{"datum":"b","type":"ordinal"},"y":{"datum":1.024,"type":"quantitative","axis":null},"y2":{"datum":1.082}}}]}]},
{"title":{"text":"Glycohyodeoxycholic acid","dx":-7},"width":140,"resolve":{"scale":{"y":"independent"}},"layer":[
 {"data":{"name":"d16"},"encoding":{"x":{"field":"t","type":"ordinal","title":null,"scale":{"padding":0.573,"align":0.608}},"y":{"field":"v","type":"quantitative","scale":{"domain":[0,60]},"axis":{"values":[0,30,60],"title":null}}},"layer":[{"mark":"line","encoding":{"detail":{"field":"s","type":"nominal"}}},{"mark":"point"}]},
 {"data":{"values":[{"k":"P<0.001 (K.W)","q":"P<0.001"}]},"encoding":{"x":{"datum":"a","type":"ordinal"}},"layer":[
  {"mark":{"type":"text","align":"left","dx":-32},"encoding":{"y":{"datum":1.33,"type":"quantitative","scale":{"domain":[0,1]},"axis":null},"text":{"field":"k"}}},
  {"mark":{"type":"text","dx":22.2},"encoding":{"y":{"datum":1.176,"type":"quantitative","axis":null},"text":{"field":"q"}}},
  {"mark":{"type":"rule","xOffset":-4.5,"x2Offset":5},"encoding":{"x2":{"datum":"b"},"y":{"datum":1.082,"type":"quantitative","axis":null}}},
  {"mark":{"type":"rule","xOffset":-4.5},"encoding":{"y":{"datum":1.024,"type":"quantitative","axis":null},"y2":{"datum":1.082}}},
  {"mark":{"type":"rule","xOffset":5},"encoding":{"x":{"datum":"b","type":"ordinal"},"y":{"datum":1.024,"type":"quantitative","axis":null},"y2":{"datum":1.082}}}]}]},
{"title":{"text":"Taurolithocholic acid","dx":-14},"width":165,"resolve":{"scale":{"y":"independent"}},"layer":[
 {"data":{"name":"d17"},"encoding":{"x":{"field":"t","type":"ordinal","title":null,"scale":{"padding":0.854,"align":0.408}},"y":{"field":"v","type":"quantitative","scale":{"domain":[0,30]},"axis":{"values":[0,15,30],"title":"Concentration (nM)"}}},"layer":[{"mark":"line","encoding":{"detail":{"field":"s","type":"nominal"}}},{"mark":"point"}]},
 {"data":{"values":[{"k":"P=0.001 (K.W)","q":"P<0.001"}]},"encoding":{"x":{"datum":"a","type":"ordinal"}},"layer":[
  {"mark":{"type":"text","align":"left","dx":-32},"encoding":{"y":{"datum":1.33,"type":"quantitative","scale":{"domain":[0,1]},"axis":null},"text":{"field":"k"}}},
  {"mark":{"type":"text","dx":22.2},"encoding":{"y":{"datum":1.176,"type":"quantitative","axis":null},"text":{"field":"q"}}},
  {"mark":{"type":"rule","xOffset":-4.5,"x2Offset":5},"encoding":{"x2":{"datum":"b"},"y":{"datum":1.082,"type":"quantitative","axis":null}}},
  {"mark":{"type":"rule","xOffset":-4.5},"encoding":{"y":{"datum":1.024,"type":"quantitative","axis":null},"y2":{"datum":1.082}}},
  {"mark":{"type":"rule","xOffset":5},"encoding":{"x":{"datum":"b","type":"ordinal"},"y":{"datum":1.024,"type":"quantitative","axis":null},"y2":{"datum":1.082}}}]}]},
{"title":{"text":"Taurodeoxycholic acid","dx":-11.5},"width":151,"resolve":{"scale":{"y":"independent"}},"layer":[
 {"data":{"name":"d18"},"encoding":{"x":{"field":"t","type":"ordinal","title":null,"scale":{"padding":0.697,"align":0.5}},"y":{"field":"v","type":"quantitative","scale":{"domain":[0,400,400.001,800],"range":[86,15.7,7.4,0]},"axis":{"values":[0,200,400,400.001,800],"title":null,"labelFontSize":{"condition":{"test":"datum.value>=400","value":9},"value":11},"labelOffset":{"condition":[{"test":"datum.value==800","value":-3.5},{"test":"datum.value==400","value":3.5}],"value":0}}}},"layer":[{"mark":"line","encoding":{"detail":{"field":"s","type":"nominal"}}},{"mark":"point"}]},
 {"data":{"values":[{"k":"P=0.002 (K.W)","q":"P=0.005"}]},"encoding":{"x":{"datum":"a","type":"ordinal"}},"layer":[
  {"mark":{"type":"text","align":"left","dx":-32},"encoding":{"y":{"datum":1.33,"type":"quantitative","scale":{"domain":[0,1]},"axis":null},"text":{"field":"k"}}},
  {"mark":{"type":"text","dx":22.2},"encoding":{"y":{"datum":1.176,"type":"quantitative","axis":null},"text":{"field":"q"}}},
  {"mark":{"type":"rule","xOffset":-4.5,"x2Offset":5},"encoding":{"x2":{"datum":"b"},"y":{"datum":1.082,"type":"quantitative","axis":null}}},
  {"mark":{"type":"rule","xOffset":-4.5},"encoding":{"y":{"datum":1.024,"type":"quantitative","axis":null},"y2":{"datum":1.082}}},
  {"mark":{"type":"rule","xOffset":5},"encoding":{"x":{"datum":"b","type":"ordinal"},"y":{"datum":1.024,"type":"quantitative","axis":null},"y2":{"datum":1.082}}}]}]},
{"title":{"text":"Tauroursodeoxycholic acid","dx":-12.5},"width":160,"resolve":{"scale":{"y":"independent"}},"layer":[
 {"data":{"name":"d19"},"encoding":{"x":{"field":"t","type":"ordinal","title":null,"scale":{"padding":0.798,"align":0.45}},"y":{"field":"v","type":"quantitative","scale":{"domain":[0,40]},"axis":{"values":[0,20,40],"title":null}}},"layer":[{"mark":"line","encoding":{"detail":{"field":"s","type":"nominal"}}},{"mark":"point"}]},
 {"data":{"values":[{"k":"P=0.008 (K.W)","q":"P=0.14"}]},"encoding":{"x":{"datum":"a","type":"ordinal"}},"layer":[
  {"mark":{"type":"text","align":"left","dx":-32},"encoding":{"y":{"datum":1.33,"type":"quantitative","scale":{"domain":[0,1]},"axis":null},"text":{"field":"k"}}},
  {"mark":{"type":"text","dx":22.2},"encoding":{"y":{"datum":1.176,"type":"quantitative","axis":null},"text":{"field":"q"}}},
  {"mark":{"type":"rule","xOffset":-4.5,"x2Offset":5},"encoding":{"x2":{"datum":"b"},"y":{"datum":1.082,"type":"quantitative","axis":null}}},
  {"mark":{"type":"rule","xOffset":-4.5},"encoding":{"y":{"datum":1.024,"type":"quantitative","axis":null},"y2":{"datum":1.082}}},
  {"mark":{"type":"rule","xOffset":5},"encoding":{"x":{"datum":"b","type":"ordinal"},"y":{"datum":1.024,"type":"quantitative","axis":null},"y2":{"datum":1.082}}}]}]},
{"title":{"text":"Lithocholic acid 3-sulfate","dx":-7},"width":140,"resolve":{"scale":{"y":"independent"}},"layer":[
 {"data":{"name":"d20"},"encoding":{"x":{"field":"t","type":"ordinal","title":null,"scale":{"padding":0.573,"align":0.608}},"y":{"field":"v","type":"quantitative","scale":{"domain":[0,50,60,120],"range":[86,20.7,13.3,0]},"axis":{"values":[0,25,50,60,120],"title":null,"labelFontSize":{"condition":{"test":"datum.value>=50","value":9},"value":11},"labelOffset":{"condition":[{"test":"datum.value==120","value":-1},{"test":"datum.value==60","value":-1.5},{"test":"datum.value==50","value":2}],"value":0}}}},"layer":[{"mark":"line","encoding":{"detail":{"field":"s","type":"nominal"}}},{"mark":"point"}]},
 {"data":{"values":[{"k":"P<0.001 (K.W)","q":"P<0.001"}]},"encoding":{"x":{"datum":"a","type":"ordinal"}},"layer":[
  {"mark":{"type":"text","align":"left","dx":-32},"encoding":{"y":{"datum":1.33,"type":"quantitative","scale":{"domain":[0,1]},"axis":null},"text":{"field":"k"}}},
  {"mark":{"type":"text","dx":22.2},"encoding":{"y":{"datum":1.176,"type":"quantitative","axis":null},"text":{"field":"q"}}},
  {"mark":{"type":"rule","xOffset":-4.5,"x2Offset":5},"encoding":{"x2":{"datum":"b"},"y":{"datum":1.082,"type":"quantitative","axis":null}}},
  {"mark":{"type":"rule","xOffset":-4.5},"encoding":{"y":{"datum":1.024,"type":"quantitative","axis":null},"y2":{"datum":1.082}}},
  {"mark":{"type":"rule","xOffset":5},"encoding":{"x":{"datum":"b","type":"ordinal"},"y":{"datum":1.024,"type":"quantitative","axis":null},"y2":{"datum":1.082}}}]}]}
]
}
